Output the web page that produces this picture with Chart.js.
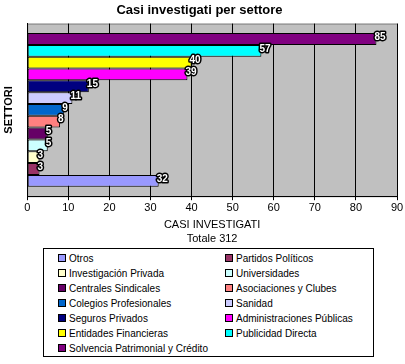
<!DOCTYPE html>
<html lang="it">
  <head>
    <meta charset="UTF-8" />
    <title>Casi investigati per settore</title>
    <script src="https://cdn.jsdelivr.net/npm/chart.js"></script>
    <style>
      html, body { margin: 0; padding: 0; background: #fff; }
      #wrap { position: relative; width: 405px; height: 364px; }
      #chart-box { position: absolute; left: 0; top: 0; width: 405px; height: 246px; }
      #legend {
        position: absolute; left: 43px; top: 248px; width: 329px; height: 107px;
        border: 1px solid #000; box-sizing: content-box;
        font-family: "Liberation Sans", Arial, sans-serif; font-size: 10px; color: #000;
      }
      .item { position: absolute; height: 12px; line-height: 12px; white-space: nowrap; }
      .sw { display: inline-block; width: 6px; height: 6px; border: 1px solid #000; margin-right: 3px; vertical-align: -0px; }
    </style>
  </head>
  <body>
    <div id="wrap">
      <div id="chart-box"><canvas id="c" width="405" height="246"></canvas></div>
      <div id="legend"></div>
    </div>
    <script>
      // sectors in legend order (first one is drawn at the bottom)
      const sectors = [
        'Otros', 'Partidos Políticos', 'Investigación Privada', 'Universidades',
        'Centrales Sindicales', 'Asociaciones y Clubes', 'Colegios Profesionales', 'Sanidad',
        'Seguros Privados', 'Administraciones Públicas', 'Entidades Financieras',
        'Publicidad Directa', 'Solvencia Patrimonial y Crédito'
      ];
      const cases = [32, 3, 3, 5, 5, 8, 9, 11, 15, 39, 40, 57, 85];
      const colors = [
        '#9999FF', '#993366', '#FFFFCC', '#CCFFFF', '#660066', '#FF8080', '#0066CC',
        '#CCCCFF', '#000080', '#FF00FF', '#FFFF00', '#00FFFF', '#800080'
      ];
      const xTicks = [0, 10, 20, 30, 40, 50, 60, 70, 80, 90];

      // top bar first in the chart
      const order = sectors.map((s, i) => i).reverse();
      const datasets = order.map(i => ({
        label: sectors[i],
        data: [cases[i]],
        backgroundColor: colors[i],
        borderColor: '#000',
        borderWidth: 1,
        borderSkipped: false,
        categoryPercentage: 0.89,
        barPercentage: 1.0
      }));

      const plotBg = {
        id: 'plotBg',
        beforeDraw(chart) {
          const a = chart.chartArea, ctx = chart.ctx;
          ctx.save();
          ctx.fillStyle = '#C0C0C0';
          ctx.fillRect(a.left, a.top, a.right - a.left, a.bottom - a.top);
          ctx.strokeStyle = '#808080';
          ctx.strokeRect(a.left + 0.5, a.top + 0.5, a.right - a.left, a.bottom - a.top);
          ctx.restore();
        }
      };

      const barLabels = {
        id: 'barLabels',
        afterDatasetsDraw(chart) {
          const ctx = chart.ctx;
          ctx.save();
          ctx.font = 'bold 10px "Liberation Sans", Arial, sans-serif';
          ctx.textBaseline = 'middle';
          ctx.textAlign = 'left';
          ctx.lineJoin = 'round';
          chart.data.datasets.forEach((ds, di) => {
            const el = chart.getDatasetMeta(di).data[0];
            const txt = String(ds.data[0]);
            const x = el.x - 2, y = el.y - 2;
            ctx.lineWidth = 3;
            ctx.strokeStyle = '#000';
            ctx.strokeText(txt, x, y);
            ctx.fillStyle = '#fff';
            ctx.fillText(txt, x, y);
          });
          ctx.restore();
        }
      };

      new Chart(document.getElementById('c'), {
        type: 'bar',
        data: { labels: [''], datasets: datasets },
        plugins: [plotBg, barLabels],
        options: {
          indexAxis: 'y',
          responsive: false,
          animation: false,
          layout: { padding: { left: 2, right: 8, top: 0, bottom: 0 } },
          plugins: {
            legend: { display: false },
            tooltip: { enabled: false },
            title: {
              display: true,
              text: 'Casi investigati per settore',
              color: '#000',
              font: { family: '"Liberation Sans", Arial, sans-serif', size: 13, weight: 'bold' },
              padding: { top: 3, bottom: 5 }
            }
          },
          scales: {
            x: {
              min: 0, max: 90,
              afterBuildTicks(scale) { scale.ticks = xTicks.map(v => ({ value: v })); },
              grid: { color: '#000', tickLength: 4, drawTicks: true },
              border: { color: '#000' },
              ticks: {
                color: '#000', padding: 1,
                font: { family: '"Liberation Sans", Arial, sans-serif', size: 11 }
              },
              title: {
                display: true,
                text: ['CASI INVESTIGATI', 'Totale 312'],
                color: '#000',
                font: { family: '"Liberation Sans", Arial, sans-serif', size: 11, lineHeight: 1.3 },
                padding: { top: 2, bottom: 0 }
              }
            },
            y: {
              grid: { display: false },
              border: { color: '#000' },
              ticks: { display: false },
              title: {
                display: true,
                text: 'SETTORI',
                color: '#000',
                font: { family: '"Liberation Sans", Arial, sans-serif', size: 11, weight: 'bold' },
                padding: { top: 0, bottom: 4 }
              }
            }
          }
        }
      });

      // two-column legend, filled row by row
      const legend = document.getElementById('legend');
      sectors.forEach((s, i) => {
        const d = document.createElement('div');
        d.className = 'item';
        d.style.left = (i % 2 === 0 ? 14 : 181) + 'px';
        d.style.top = (4 + Math.floor(i / 2) * 15) + 'px';
        d.innerHTML = '<span class="sw" style="background:' + colors[i] + '"></span>' + s;
        legend.appendChild(d);
      });
    </script>
  </body>
</html>
